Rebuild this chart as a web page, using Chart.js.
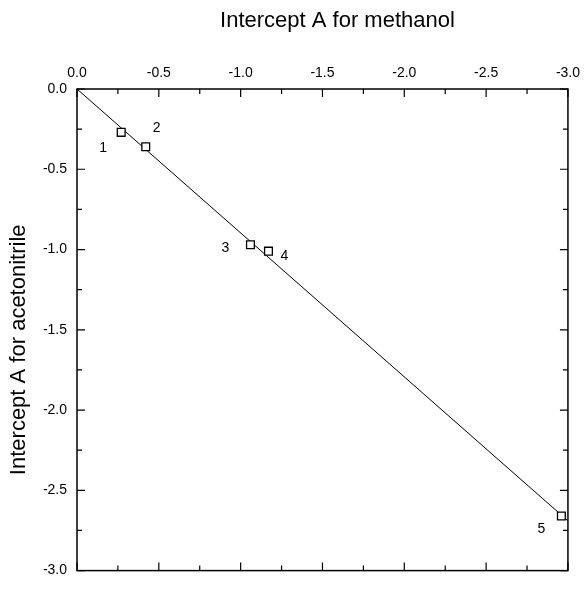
<!DOCTYPE html>
<html><head><meta charset="utf-8">
<script src="https://cdn.jsdelivr.net/npm/chart.js@4"></script>
<style>html,body{margin:0;padding:0;background:#fff}#wrap{width:587px;height:589px;position:relative}</style>
</head><body><div id="wrap"><canvas id="c"></canvas></div>
<script>
// ---- data ----
const pointLabels = ['1', '2', '3', '4', '5'];
const methanolA = [-0.27, -0.42, -1.06, -1.17, -2.96];
const acetonitrileA = [-0.27, -0.36, -0.97, -1.01, -2.66];
const fitX = [0, -3.0];
const fitY = [0, -2.69];
const xTickValues = [0, -0.5, -1.0, -1.5, -2.0, -2.5, -3.0];
const yTickValues = [0, -0.5, -1.0, -1.5, -2.0, -2.5, -3.0];
const xTitle = 'Intercept A for methanol';
const yTitle = 'Intercept A for acetonitrile';

// label offsets (px) relative to each point
const labelOffsets = [[-18, 16], [11, -19], [-25, 3], [16, 5], [-20, 13]];

const FONT = "'Liberation Sans', Arial, Helvetica, sans-serif";

const framePlugin = {
  id: 'frame',
  afterDatasetsDraw(chart) {
    const {ctx, chartArea: a, scales: {x, y}} = chart;
    ctx.save();
    ctx.strokeStyle = '#000';
    ctx.lineWidth = 1.5;
    ctx.strokeRect(a.left, a.top, a.right - a.left, a.bottom - a.top);
    ctx.lineWidth = 1.2;
    ctx.beginPath();
    for (let v = 0; v >= -3.0001; v -= 0.25) {
      const major = Math.abs(v * 2 - Math.round(v * 2)) < 1e-6;
      const len = major ? 8 : 5;
      const px = x.getPixelForValue(v);
      const py = y.getPixelForValue(v);
      ctx.moveTo(px, a.top); ctx.lineTo(px, a.top + len);
      ctx.moveTo(px, a.bottom); ctx.lineTo(px, a.bottom - len);
      ctx.moveTo(a.left, py); ctx.lineTo(a.left + len, py);
      ctx.moveTo(a.right, py); ctx.lineTo(a.right - len, py);
    }
    ctx.stroke();
    // point number labels
    ctx.fillStyle = '#000';
    ctx.font = '14px ' + FONT;
    ctx.textAlign = 'center';
    ctx.textBaseline = 'middle';
    const meta = chart.getDatasetMeta(1);
    meta.data.forEach((el, i) => {
      ctx.fillText(pointLabels[i], el.x + labelOffsets[i][0], el.y + labelOffsets[i][1]);
    });
    // axis titles
    ctx.font = '22px ' + FONT;
    ctx.fillText(xTitle, (a.left + a.right) / 2 + 15, 21);
    ctx.save();
    ctx.translate(19, (a.top + a.bottom) / 2 + 20);
    ctx.rotate(-Math.PI / 2);
    ctx.fillText(yTitle, 0, 0);
    ctx.restore();
    ctx.restore();
  }
};

new Chart(document.getElementById('c'), {
  data: {
    datasets: [
      {
        type: 'line',
        data: fitX.map((v, i) => ({x: v, y: fitY[i]})),
        borderColor: '#000',
        borderWidth: 1,
        pointRadius: 0,
        fill: false,
        order: 2
      },
      {
        type: 'scatter',
        data: methanolA.map((v, i) => ({x: v, y: acetonitrileA[i]})),
        pointStyle: 'rect',
        pointRadius: 5.5,
        borderColor: '#000',
        backgroundColor: '#fff',
        borderWidth: 1.3,
        clip: false,
        order: 1
      }
    ]
  },
  options: {
    responsive: true,
    maintainAspectRatio: false,
    animation: false,
    layout: {padding: {left: 0, right: 14, top: 0, bottom: 11}},
    plugins: {legend: {display: false}, tooltip: {enabled: false}},
    scales: {
      x: {
        type: 'linear',
        position: 'top',
        reverse: true,
        min: -3, max: 0,
        afterBuildTicks: s => { s.ticks = xTickValues.map(v => ({value: v})); },
        afterFit: s => { s.height = 89; },
        grid: {display: false, drawTicks: false},
        border: {display: false},
        ticks: {
          color: '#000', padding: 7, maxRotation: 0, autoSkip: false,
          font: {family: FONT, size: 14},
          callback: v => (Math.abs(v) < 1e-9 ? 0 : v).toFixed(1)
        },
        title: {display: false}
      },
      y: {
        type: 'linear',
        position: 'left',
        min: -3, max: 0,
        afterBuildTicks: s => { s.ticks = yTickValues.map(v => ({value: v})); },
        afterFit: s => { s.width = 77; },
        grid: {display: false, drawTicks: false},
        border: {display: false},
        ticks: {
          color: '#000', padding: 10, autoSkip: false,
          font: {family: FONT, size: 14},
          callback: v => (Math.abs(v) < 1e-9 ? 0 : v).toFixed(1)
        },
        title: {display: false}
      }
    }
  },
  plugins: [framePlugin]
});
</script>
</body></html>
